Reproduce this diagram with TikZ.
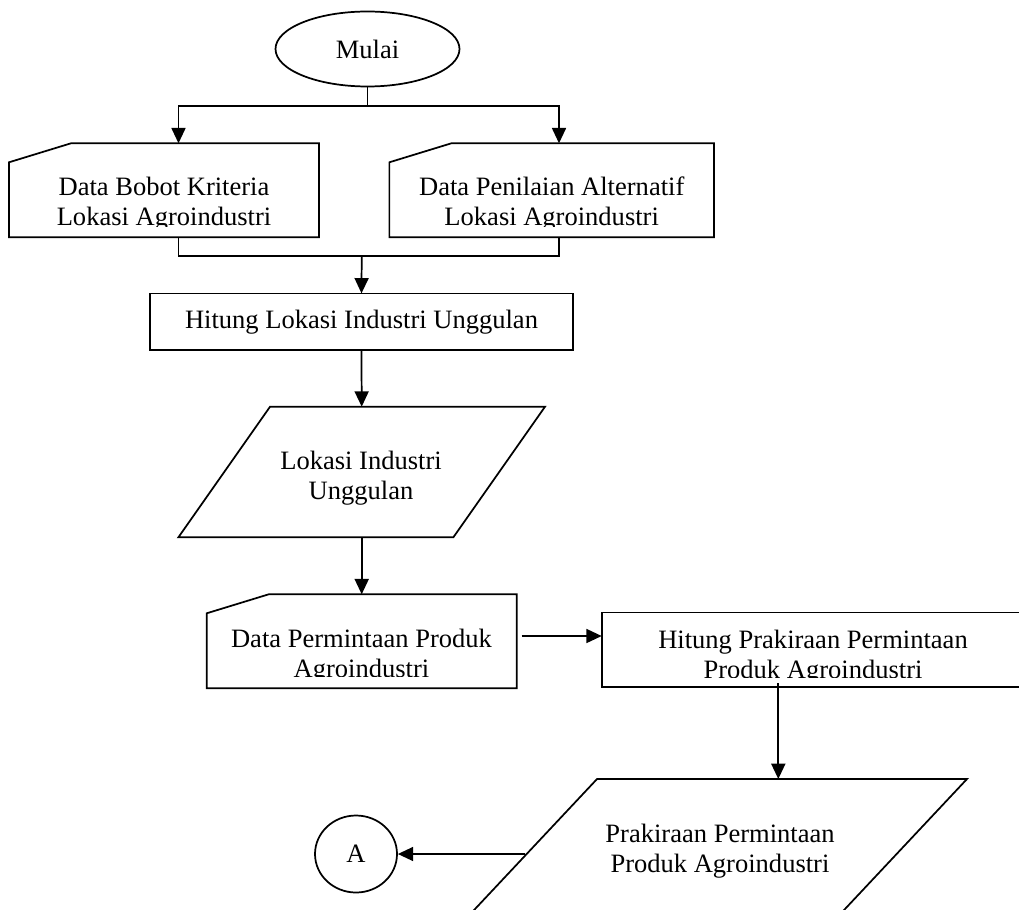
\documentclass[tikz,border=0pt]{standalone}
\usepackage{fontspec}
\setmainfont{Liberation Serif}
\usetikzlibrary{arrows.meta,shapes.geometric,calc}
\begin{document}
\begin{tikzpicture}[x=0.75pt,y=-0.75pt,
  line width=1.3pt,
  every node/.style={font=\fontsize{19.9pt}{22.5pt}\selectfont},
  boxnode/.style={draw=none,rectangle,outer sep=0pt,inner sep=0pt},
  txt/.style={anchor=north,inner sep=0pt,align=center},
  arr/.style={-{Triangle[length=11.5pt,width=10.5pt]}},
  terminal/.style={draw,ellipse,inner sep=0pt}]
\clip (0,0) rectangle (1019,909);

% start terminal
\node[terminal,minimum width=138pt,minimum height=56.25pt] (start) at (367.5,49) {Mulai};

% manual input boxes (frames)
\node[boxnode,minimum width=232.5pt,minimum height=70.5pt] (in1) at (164,190.3) {};
\node[boxnode,minimum width=243.5pt,minimum height=70.5pt] (in2) at (551.7,190.3) {};
\node[boxnode,minimum width=232.5pt,minimum height=70.5pt] (in3) at (361.7,641.3) {};
\foreach \b in {in1,in2,in3}{
  \draw (\b.south west) -- ($(\b.north west)+(0,19)$) -- ($(\b.north west)+(62,0)$)
        -- (\b.north east) -- (\b.south east) -- cycle;
}

% process boxes
\node[boxnode,draw,minimum width=317.5pt,minimum height=42.5pt] (hit1) at (361.5,321.7)
  {Hitung Lokasi Industri Unggulan};
\node[boxnode,draw,minimum width=317.4pt,minimum height=56pt] (hp2) at (813.3,649.7) {};

% data (parallelogram) boxes
\node[boxnode,minimum width=275pt,minimum height=98pt] (par1) at (361.7,472) {};
\draw (par1.south west) -- ($(par1.north west)+(91.7,0)$) -- (par1.north east)
      -- ($(par1.south east)+(-91.7,0)$) -- cycle;
\node[boxnode,minimum width=374.6pt,minimum height=103.5pt] (par2) at (717.25,848) {};
\draw (par2.south west) -- ($(par2.north west)+(129.5,0)$) -- (par2.north east)
      -- ($(par2.south east)+(-129.5,0)$) -- cycle;

% connector circle
\node[terminal,minimum width=61.5pt,minimum height=57.75pt] (conA) at (356,854) {A};

% texts of the boxes (clipped by the text areas)
\begin{scope}
  \clip (in1.north west) rectangle ($(in1.south east)+(0,-11)$);
  \node[txt] (in1t) at (164,176.2) {Data Bobot Kriteria\\Lokasi Agroindustri};
\end{scope}
\begin{scope}
  \clip (in2.north west) rectangle ($(in2.south east)+(0,-11)$);
  \node[txt] (in2t) at (551.7,175.5) {Data Penilaian Alternatif\\Lokasi Agroindustri};
\end{scope}
\begin{scope}
  \clip (in3.north west) rectangle ($(in3.south east)+(0,-12)$);
  \node[txt] (in3t) at (361.5,627.8) {Data Permintaan Produk\\Agroindustri};
\end{scope}
\begin{scope}
  \clip (hp2.north west) rectangle ($(hp2.south east)+(0,-10)$);
  \node[txt] (hp2t) at (813,629.5) {Hitung Prakiraan Permintaan\\Produk Agroindustri};
\end{scope}
\node[txt] (par1t) at (361,450.2) {Lokasi Industri\\Unggulan};
\node[txt] (par2t) at (720,823.5) {Prakiraan Permintaan\\Produk Agroindustri};

% routing points
\coordinate (colL) at (178.5,106);
\coordinate (colR) at (559,106);
\coordinate (merge) at (361.7,256.3);
\coordinate (feed) at (521.7,636);
\coordinate (drop) at (778.3,0);
\coordinate (outA) at (525,854);

% connectors
\draw[arr] (start.south) |- (colL) -- (in1.north -| colL);
\draw[arr] (start.south) |- (colR) -- (in2.north -| colR);
\draw (in1.south -| colL) |- (merge);
\draw (in2.south -| colR) |- (merge);
\draw[arr] (merge) -- (hit1.north);
\draw[arr] (hit1.south) -- (par1.north);
\draw[arr] (par1.south) -- (in3.north);
\draw[arr] (feed) -- (feed -| hp2.west);
\draw[arr] ($(hp2.south -| drop)+(0,-4)$) -- (par2.north -| drop);
\draw[arr] (outA) -- (conA);
\end{tikzpicture}
\end{document}
